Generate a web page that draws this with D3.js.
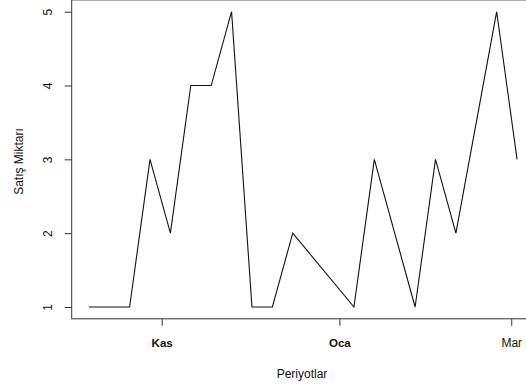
<!DOCTYPE html>
<html>
<head>
<meta charset="utf-8">
<script src="https://cdn.jsdelivr.net/npm/d3@7"></script>
<style>
  html, body { margin: 0; padding: 0; background: #fff; }
  svg { display: block; }
  text { font-family: "Liberation Sans", Arial, Helvetica, sans-serif; fill: #111; }
</style>
</head>
<body>
<svg id="chart" width="526" height="389"></svg>
<script>
// Weekly sales periods (gaps are weeks without a record)
const periods = [
  "2018-10-07", "2018-10-21", "2018-10-28", "2018-11-04", "2018-11-11",
  "2018-11-18", "2018-11-25", "2018-12-02", "2018-12-09", "2018-12-16",
  "2019-01-06", "2019-01-13", "2019-01-27", "2019-02-03", "2019-02-10",
  "2019-02-24", "2019-03-03"
];
const sales = [1, 1, 3, 2, 4, 4, 5, 1, 1, 2, 1, 3, 1, 3, 2, 5, 3];

// Axis ticks
const xTickDates = ["2018-11-01", "2019-01-01", "2019-03-01"];
const xTickLabels = ["Kas", "Oca", "Mar"];
const xTickBold = [true, true, false];
const yTicks = [1, 2, 3, 4, 5];

const xTitle = "Periyotlar";
const yTitle = "Satış Miktarı";

const parse = d3.utcParse("%Y-%m-%d");
const dates = periods.map(parse);
const points = dates.map((d, i) => ({ date: d, value: sales[i] }));

const svg = d3.select("#chart");

// Plot region with a 4% pad on each side of the data range
const plot = { left: 71.7, right: 534.2, top: -0.1, bottom: 318.8 };

const [dMin, dMax] = d3.extent(dates);
const span = dMax - dMin;
const x = d3.scaleUtc()
  .domain([new Date(+dMin - 0.04 * span), new Date(+dMax + 0.04 * span)])
  .range([plot.left, plot.right]);

const [vMin, vMax] = d3.extent(sales);
const vPad = 0.04 * (vMax - vMin);
const y = d3.scaleLinear()
  .domain([vMin - vPad, vMax + vPad])
  .range([plot.bottom, plot.top]);

// Frame around the plot region
svg.append("rect")
  .attr("x", plot.left)
  .attr("y", plot.top)
  .attr("width", plot.right - plot.left)
  .attr("height", plot.bottom - plot.top)
  .attr("fill", "none")
  .attr("stroke", "#333")
  .attr("stroke-width", 1);

// Sales line
const line = d3.line()
  .x(d => x(d.date))
  .y(d => y(d.value));

svg.append("path")
  .datum(points)
  .attr("d", line)
  .attr("fill", "none")
  .attr("stroke", "#111")
  .attr("stroke-width", 1.1)
  .attr("stroke-linejoin", "miter");

// Y axis: labels rotated parallel to the axis
const yAxis = d3.axisLeft(y)
  .tickValues(yTicks)
  .tickSize(7)
  .tickFormat(d3.format("d"));

const gy = svg.append("g")
  .attr("transform", `translate(${plot.left},0)`)
  .call(yAxis);
gy.select(".domain").remove();
gy.selectAll(".tick line").attr("stroke", "#333");
gy.selectAll(".tick text")
  .attr("transform", "rotate(-90)")
  .attr("x", 0)
  .attr("y", -19.5)
  .attr("dy", 0)
  .attr("text-anchor", "middle")
  .style("font-size", "12px")
  .style("font-family", "'Liberation Sans', Arial, sans-serif")
  .attr("fill", "#111");

// X axis: month ticks
const xTicks = xTickDates.map(parse);
const xAxis = d3.axisBottom(x)
  .tickValues(xTicks)
  .tickSize(7)
  .tickFormat((d, i) => xTickLabels[i]);

const gx = svg.append("g")
  .attr("transform", `translate(0,${plot.bottom})`)
  .call(xAxis);
gx.select(".domain").remove();
gx.selectAll(".tick line").attr("stroke", "#333");
gx.selectAll(".tick text")
  .attr("y", 28.5)
  .attr("dy", 0)
  .style("font-family", "'Liberation Sans', Arial, sans-serif")
  .style("font-size", (d, i) => xTickBold[i] ? "11.5px" : "12px")
  .style("font-weight", (d, i) => xTickBold[i] ? "bold" : "normal")
  .attr("fill", "#111");

// Axis titles
svg.append("text")
  .attr("x", 302)
  .attr("y", 378)
  .attr("text-anchor", "middle")
  .style("font-size", "12px")
  .text(xTitle);

svg.append("text")
  .attr("transform", "translate(22.5,161.5) rotate(-90)")
  .attr("text-anchor", "middle")
  .style("font-size", "12px")
  .text(yTitle);
</script>
</body>
</html>
